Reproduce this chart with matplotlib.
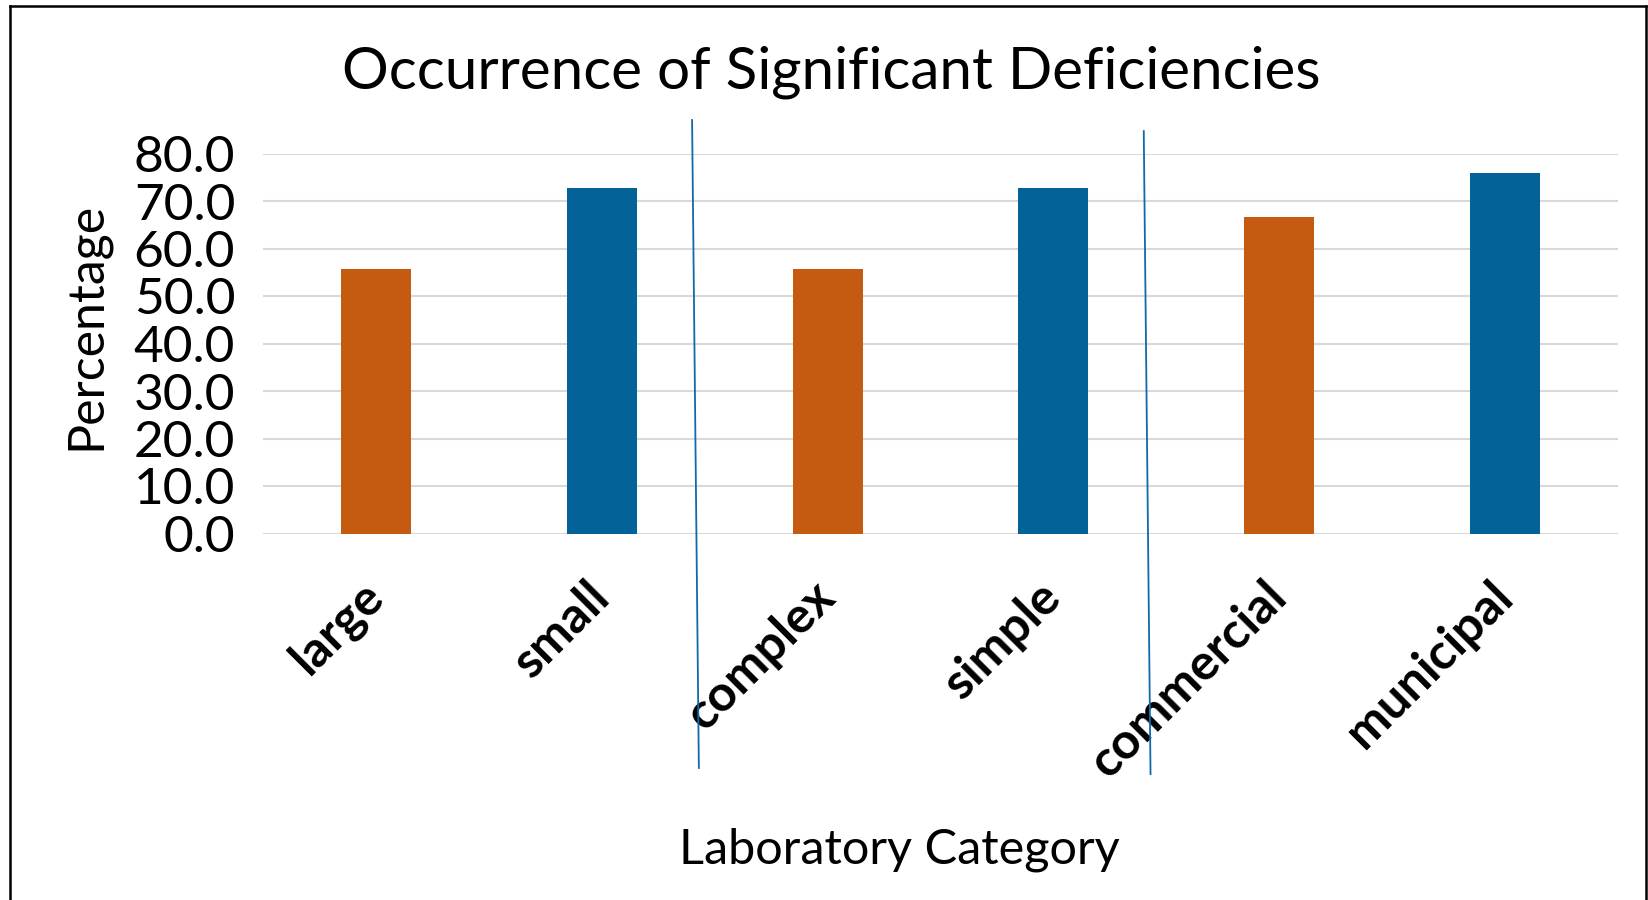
import matplotlib
matplotlib.use("Agg")
import matplotlib.pyplot as plt
from matplotlib.lines import Line2D
import matplotlib.transforms as mtransforms

categories = ["large", "small", "complex", "simple", "commercial", "municipal"]
values = [55.6, 72.7, 55.6, 72.7, 66.7, 75.9]
bar_colors = ["#C55A11", "#036399", "#C55A11", "#036399", "#C55A11", "#036399"]
yticks = [0, 10, 20, 30, 40, 50, 60, 70, 80]
ytick_labels = ["0.0", "10.0", "20.0", "30.0", "40.0", "50.0", "60.0", "70.0", "80.0"]
title = "Occurrence of Significant Deficiencies"
xlabel = "Laboratory Category"
ylabel = "Percentage"

plt.rcParams['font.family'] = ['Lato', 'DejaVu Sans']

W, H = 1649, 900
fig = plt.figure(figsize=(W / 100, H / 100), dpi=100)
ax = fig.add_axes([263 / W, 1 - 533.5 / H, (1618 - 263) / W, (533.5 - 153.5) / H])

x = list(range(len(categories)))
ax.bar(x, values, width=0.31, color=bar_colors, zorder=3)
ax.set_xlim(-0.5, len(categories) - 0.5)
ax.set_ylim(0, 80)
ax.set_yticks(yticks)
ax.set_yticklabels(ytick_labels, fontsize=37)
ax.set_xticks(x)
ax.set_xticklabels(categories, fontsize=36, fontweight='bold', rotation=45,
                   ha='right', va='center', rotation_mode='anchor')
ax.tick_params(axis='both', length=0)
ax.tick_params(axis='y', pad=20)
ax.tick_params(axis='x', pad=40)
ax.grid(axis='y', color='#D9D9D9', linewidth=1.5, zorder=0)
for s in ax.spines.values():
    s.set_visible(False)

fig.text(831 / W, 1 - 72 / H, title, fontsize=42, ha='center', va='center')
fig.text(899 / W, 1 - 850 / H, xlabel, fontsize=35, ha='center', va='center')
fig.text(86 / W, 1 - 326 / H, ylabel, fontsize=36, ha='center', va='center', rotation=90)

# separator lines between category groups (x in data, y in axes fraction)
trans = mtransforms.blended_transform_factory(ax.transData, ax.transAxes)
sep_x = [(1.40, 1.43), (3.40, 3.43)]
sep_y = [(1.088, -0.617), (1.059, -0.633)]
for (x0, x1), (y0, y1) in zip(sep_x, sep_y):
    ax.add_line(Line2D([x0, x1], [y0, y1], transform=trans, color='#0F6BA8',
                       linewidth=1.3, clip_on=False, zorder=5))

# chart border (no bottom edge visible)
bx0, bx1, by0 = 10 / W, 1646 / W, 1 - 6 / H
for xs, ys in [([bx0, bx0], [0, by0]), ([bx0, bx1], [by0, by0]), ([bx1, bx1], [by0, 0])]:
    fig.add_artist(Line2D(xs, ys, color='black', linewidth=1.8, transform=fig.transFigure))

fig.savefig("out.png", dpi=100, facecolor='white')
